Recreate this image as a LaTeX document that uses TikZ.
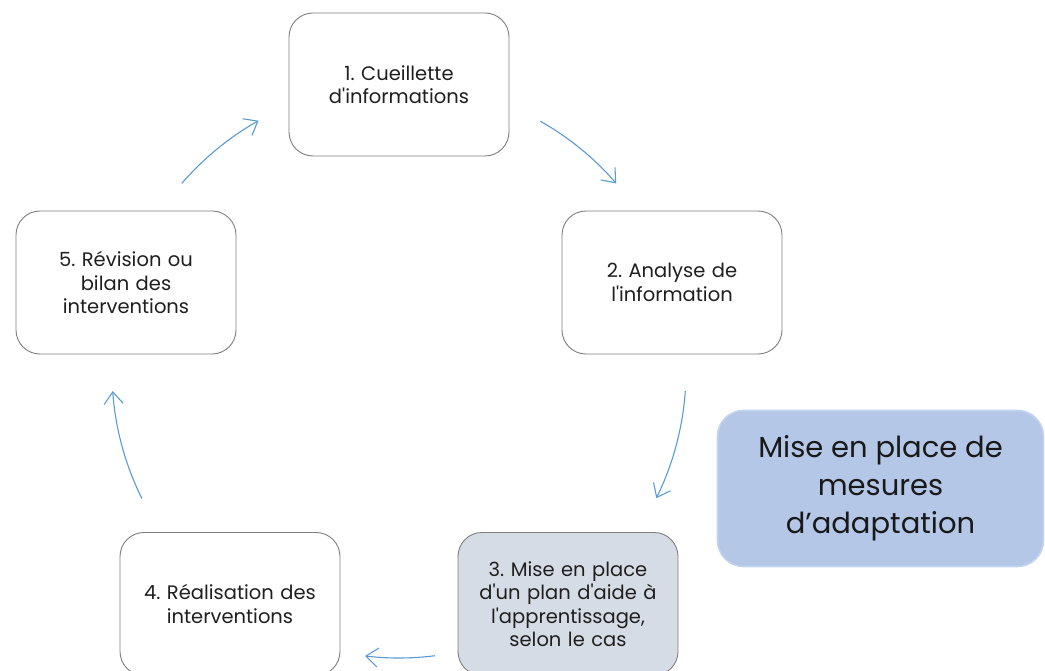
\documentclass[tikz,border=0pt]{standalone}
\usepackage{fontspec}
\setmainfont{Poppins}[Ligatures=TeXOff]
\usetikzlibrary{arrows.meta}
\frenchspacing
\definecolor{boxline}{HTML}{7F7F7F}
\definecolor{arrowblue}{HTML}{5B9BD5}
\definecolor{graybox}{HTML}{D6DCE5}
\definecolor{bluebox}{HTML}{B4C7E7}
\definecolor{blueline}{HTML}{C2D4EF}
\tikzset{
  stagebox/.style={draw=boxline, line width=0.9pt, rounded corners=24pt, minimum width=220pt, minimum height=143pt, align=center, font=\fontsize{19.5}{23.5}\selectfont, text=black!88, inner sep=4pt, text width=212pt},
  cyclearrow/.style={draw=arrowblue, line width=1.1pt, -{Straight Barb[length=12pt,width=19pt,line width=1.1pt]}}
}
\begin{document}
\begin{tikzpicture}[x=1pt,y=1pt]
\useasboundingbox (0,0) rectangle (1045,671);
\fill[white] (0,0) rectangle (1045,671);
\clip (0,0) rectangle (1045,671);
\node[stagebox, fill=white] (s1) at (399,586.5) {1. Cueillette\\d'informations};
\node[stagebox, fill=white] (s2) at (672,388.5) {2. Analyse de\\l'information};
\node[stagebox, fill=graybox] (s3) at (568,67) {3. Mise en place\\d'un plan d'aide à\\l'apprentissage,\\selon le cas};
\node[stagebox, fill=white] (s4) at (230,67) {4. Réalisation des\\interventions};
\node[stagebox, fill=white] (s5) at (126,388.5) {5. Révision ou\\bilan des\\interventions};
\node[draw=blueline, line width=1.6pt, fill=bluebox, rounded corners=26pt, minimum width=326pt, minimum height=156pt, align=center, font=\fontsize{29}{38}\selectfont, text=black!90] (mesures) at (880.5,182.5) {Mise en place de\\mesures\\d’adaptation};
\coordinate (cyc) at (399,300);
\draw[cyclearrow] ([shift={(60.5:287)}]cyc) arc[start angle=60.5, end angle=40.8, radius=287];
\draw[cyclearrow] ([shift={(-4:287)}]cyc) arc[start angle=-4, end angle=-26.3, radius=287];
\draw[cyclearrow] ([shift={(-82.8:287)}]cyc) arc[start angle=-82.8, end angle=-96.8, radius=287];
\draw[cyclearrow] ([shift={(-153.6:287)}]cyc) arc[start angle=-153.6, end angle=-176, radius=287];
\draw[cyclearrow] ([shift={(139.2:287)}]cyc) arc[start angle=139.2, end angle=119.3, radius=287];
\end{tikzpicture}
\end{document}
